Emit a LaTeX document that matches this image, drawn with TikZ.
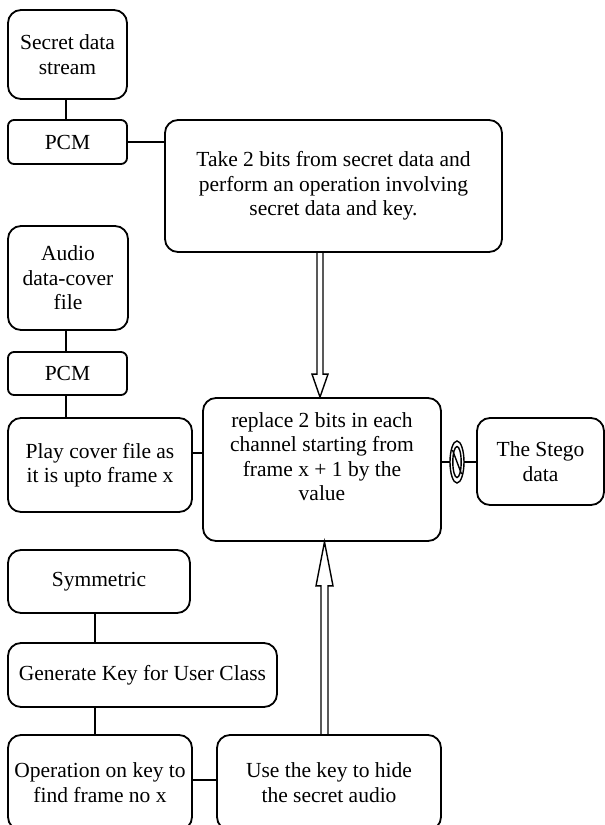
\documentclass[tikz,border=0pt]{standalone}
\usepackage{fontspec}
\setmainfont{Liberation Serif}
\begin{document}
\begin{tikzpicture}[x=1pt,y=-1pt,
  box/.style={draw, line width=1.8pt, rounded corners=13pt, inner sep=0pt, align=center,
    font=\fontsize{21.5}{24.5}\selectfont},
  sbox/.style={box, rounded corners=6pt},
  txt/.style={inner sep=0pt, align=center, font=\fontsize{21.5}{24.5}\selectfont},
  conn/.style={line width=1.6pt}]
\useasboundingbox (0,0) rectangle (605,825);
% boxes
\node[box, minimum width=119pt, minimum height=89pt] (sec) at (67.5,54.5) {Secret data\\stream};
\node[sbox, minimum width=119pt, minimum height=44pt] (pcma) at (67.5,142) {PCM};
\node[box, minimum width=337pt, minimum height=132pt] (take) at (333.5,186) {Take 2 bits from secret data and\\perform an operation involving\\secret data and key.};
\node[box, minimum width=120pt, minimum height=104pt] (aud) at (68,278) {Audio\\data-cover\\file};
\node[sbox, minimum width=119pt, minimum height=43pt] (pcmb) at (67.5,373.5) {PCM};
\node[box, minimum width=184pt, minimum height=94pt] (play) at (100,465) {Play cover file as\\it is upto frame x};
\node[box, minimum width=238pt, minimum height=143pt] (cen) at (322,469.5) {};
\node[txt] (centxt) at ([yshift=13pt]cen.center) {replace 2 bits in each\\channel starting from\\frame x + 1 by the\\value};
\node[box, minimum width=127pt, minimum height=87pt] (steg) at (540.5,461.5) {The Stego\\data};
\node[box, minimum width=182pt, minimum height=63pt] (sym) at (99,581.5) {Symmetric};
\node[box, minimum width=269pt, minimum height=64pt] (gen) at (142.5,675) {Generate Key for User Class};
\node[box, minimum width=184pt, minimum height=95pt] (op) at (100,782.5) {Operation on key to\\find frame no x};
\node[box, minimum width=224pt, minimum height=95pt] (use) at (329,782.5) {Use the key to hide\\the secret audio};
% reference x positions
\coordinate (xa) at (66,0);
\coordinate (xb) at (95,0);
\coordinate (xd) at (320,0);
\coordinate (xu) at (324.5,0);
% plain connectors
\draw[conn] (sec.south -| xa) -- (pcma.north -| xa);
\draw[conn] (pcma.east) -- (pcma.east -| take.west);
\draw[conn] (aud.south -| xa) -- (pcmb.north -| xa);
\draw[conn] (pcmb.south -| xa) -- (play.north -| xa);
\draw[conn] ([yshift=12pt]play.east) -- ([yshift=12pt]play.east -| cen.west);
\draw[conn] (sym.south -| xb) -- (gen.north -| xb);
\draw[conn] (gen.south -| xb) -- (op.north -| xb);
\draw[conn] ([yshift=2.5pt]op.east) -- ([yshift=2.5pt]op.east -| use.west);
% connector to stego with coil
\coordinate (coil) at (457,462);
\draw[conn] (cen.east |- coil) -- (steg.west |- coil);
\draw[line width=1.4pt, fill=white] (coil) ellipse (7pt and 21pt);
\draw[line width=1.4pt] (coil) ellipse (4.2pt and 15.5pt);
\draw[line width=1.4pt] ([shift={(-4.5pt,12pt)}]coil) -- ([shift={(4.5pt,-12pt)}]coil);
% hollow double arrow down (take -> cen)
\coordinate (da) at (take.south -| xd);
\coordinate (db) at (cen.north -| xd);
\draw[line width=1.4pt, line join=miter]
  ([xshift=-3pt]da) -- ([shift={(-3pt,23pt)}]db) -- ([shift={(-8pt,23pt)}]db) -- (db)
  -- ([shift={(8pt,23pt)}]db) -- ([shift={(3pt,23pt)}]db) -- ([xshift=3pt]da);
% hollow double arrow up (use -> cen)
\coordinate (ua) at (use.north -| xu);
\coordinate (ub) at (cen.south -| xu);
\draw[line width=1.4pt, line join=miter]
  ([xshift=-3.5pt]ua) -- ([shift={(-3.5pt,-44pt)}]ub) -- ([shift={(-8.5pt,-44pt)}]ub) -- (ub)
  -- ([shift={(8.5pt,-44pt)}]ub) -- ([shift={(3.5pt,-44pt)}]ub) -- ([xshift=3.5pt]ua);
\end{tikzpicture}
\end{document}
